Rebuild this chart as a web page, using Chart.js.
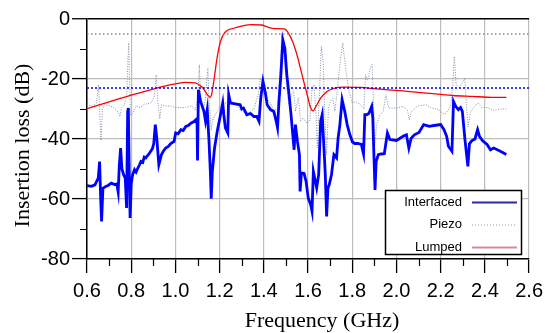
<!DOCTYPE html>
<html>
<head>
<meta charset="utf-8">
<script src="https://cdn.jsdelivr.net/npm/chart.js@4.4.1/dist/chart.umd.min.js"></script>
<style>
  html, body { margin: 0; padding: 0; background: #fff; }
  canvas { display: block; }
</style>
</head>
<body>
<canvas id="lossChart" width="549" height="333"></canvas>
<script>
// --- Data: [frequency (GHz), insertion loss (dB)] ---
const interfaced = [
  [0.600,-55.5],[0.620,-55.8],[0.636,-55.3],[0.651,-53],[0.657,-47.5],[0.662,-60],[0.666,-67.5],
  [0.672,-56.4],[0.685,-55.8],[0.695,-55.5],[0.710,-54.7],[0.725,-55.2],[0.735,-55],[0.741,-57.7],
  [0.746,-49],[0.752,-43],[0.758,-50],[0.766,-52],[0.773,-53],[0.779,-63],[0.784,-31],[0.787,-29.7],
  [0.791,-50],[0.795,-66.3],[0.800,-55],[0.806,-52],[0.815,-50.2],[0.822,-51],[0.830,-49.7],
  [0.838,-48.5],[0.844,-47.5],[0.852,-47.8],[0.859,-46],[0.866,-46.3],[0.874,-45.5],[0.882,-44.8],
  [0.889,-44],[0.896,-43.2],[0.902,-41.5],[0.909,-35.2],[0.916,-40],[0.925,-48.6],[0.937,-45.2],
  [0.946,-44],[0.956,-43],[0.968,-42.5],[0.979,-41.5],[0.994,-40.8],[1.001,-38],[1.012,-38.3],
  [1.025,-36.9],[1.035,-37.2],[1.047,-35.8],[1.058,-35.5],[1.070,-34.7],[1.082,-34.3],[1.092,-33.6],
  [1.098,-35],[1.100,-47.2],[1.104,-23.6],[1.114,-27.5],[1.129,-30.8],[1.136,-34],[1.144,-30.2],
  [1.152,-40.8],[1.158,-50.8],[1.162,-59.9],[1.167,-50.8],[1.177,-43],[1.189,-37.5],[1.204,-31.9],
  [1.214,-28],[1.219,-32],[1.226,-36.3],[1.237,-38],[1.241,-25.2],[1.249,-28],[1.271,-28.3],
  [1.293,-28.6],[1.300,-30],[1.308,-29.7],[1.323,-31.9],[1.340,-31.5],[1.355,-32.5],[1.368,-32.5],
  [1.378,-34.1],[1.386,-26.3],[1.396,-20.8],[1.407,-24.7],[1.415,-28.6],[1.430,-30.2],[1.445,-30.8],
  [1.456,-34.1],[1.462,-36.3],[1.468,-28],[1.477,-18.6],[1.486,-7],[1.495,-9.7],[1.504,-18.6],
  [1.514,-25.2],[1.523,-31.9],[1.531,-38.6],[1.537,-43.6],[1.543,-35.2],[1.552,-40.8],[1.561,-45.2],
  [1.564,-57.5],[1.570,-51.3],[1.582,-51.5],[1.591,-54.1],[1.601,-59.7],[1.612,-61.9],[1.618,-64.1],
  [1.624,-50.8],[1.633,-54.1],[1.639,-56.3],[1.648,-51.9],[1.657,-34.1],[1.664,-31.9],[1.672,-43],
  [1.678,-51.9],[1.684,-65.8],[1.690,-56.3],[1.696,-55.2],[1.706,-51.9],[1.717,-45.2],[1.729,-46.3],
  [1.736,-39.7],[1.744,-35.2],[1.754,-26.9],[1.766,-30.8],[1.777,-35.2],[1.789,-38.5],[1.801,-41],
  [1.811,-41.5],[1.825,-41.5],[1.841,-41.8],[1.851,-45],[1.857,-31.9],[1.866,-31.9],[1.875,-31.5],
  [1.888,-29.1],[1.893,-33],[1.896,-40.8],[1.900,-50],[1.903,-57],[1.908,-47.5],[1.918,-45.2],
  [1.930,-45],[1.945,-44.9],[1.959,-38],[1.970,-40.2],[2.000,-40.5],[2.030,-39.1],[2.045,-38.6],
  [2.056,-43],[2.066,-39.8],[2.081,-38.6],[2.102,-37.8],[2.123,-35.2],[2.148,-35.8],[2.170,-35.5],
  [2.200,-35.2],[2.215,-36.9],[2.227,-39.1],[2.235,-42.4],[2.251,-44.1],[2.258,-27.5],[2.268,-29.1],
  [2.280,-30.2],[2.290,-29.5],[2.298,-30.8],[2.310,-40.3],[2.323,-49.1],[2.330,-41.6],[2.340,-40.6],
  [2.355,-40],[2.367,-36.9],[2.376,-39.2],[2.390,-40.6],[2.410,-41.8],[2.425,-43.6],[2.440,-43],
  [2.470,-44.1],[2.497,-45.2]
];

const piezo = [
  [0.600,-28.5],[0.620,-29],[0.643,-28],[0.652,-22],[0.657,-30],[0.663,-40.5],[0.670,-30],[0.680,-28.5],
  [0.703,-29],[0.720,-29.5],[0.740,-31],[0.749,-32.5],[0.757,-29.5],[0.770,-28.5],[0.780,-25],
  [0.786,-12],[0.789,-8],[0.792,-20],[0.797,-32],[0.805,-31.5],[0.822,-29],[0.840,-29.5],[0.859,-28.5],
  [0.889,-28],[0.904,-26],[0.913,-18.6],[0.920,-27],[0.929,-33.3],[0.936,-28.6],[0.950,-29],
  [0.979,-29],[1.000,-29.5],[1.045,-29.5],[1.075,-29],[1.090,-30.5],[1.102,-26],[1.108,-15.2],
  [1.114,-26],[1.125,-30.5],[1.135,-27],[1.147,-16.3],[1.152,-27],[1.162,-37],[1.170,-33],
  [1.189,-30.8],[1.211,-28],[1.230,-28],[1.250,-27.5],[1.271,-28.5],[1.300,-30.8],[1.330,-31.5],
  [1.355,-30],[1.375,-25],[1.384,-19.8],[1.392,-21.3],[1.400,-25],[1.430,-28],[1.445,-30.8],
  [1.462,-29.5],[1.473,-18],[1.481,-5.2],[1.490,-10.8],[1.504,-23],[1.513,-28.6],[1.525,-25.2],
  [1.535,-24.1],[1.543,-30.8],[1.556,-26.3],[1.567,-34.1],[1.579,-33],[1.594,-34.7],[1.608,-34],
  [1.618,-23],[1.627,-21.9],[1.636,-31.9],[1.642,-43],[1.650,-27.5],[1.660,-9.1],[1.668,-14.1],
  [1.676,-31.9],[1.684,-45.2],[1.692,-30],[1.700,-27.5],[1.712,-26.5],[1.721,-30.8],[1.729,-26],
  [1.744,-15.2],[1.757,-8],[1.763,-12],[1.772,-17.5],[1.785,-24],[1.800,-28],[1.815,-27.5],
  [1.835,-28.5],[1.853,-30],[1.860,-18.6],[1.870,-20.5],[1.883,-16],[1.890,-15.2],[1.895,-26],
  [1.902,-42],[1.910,-35.5],[1.925,-32],[1.940,-30.8],[1.952,-25.2],[1.965,-29.7],[2.000,-29.7],
  [2.030,-29.1],[2.050,-30.5],[2.058,-33.6],[2.066,-31],[2.095,-29],[2.135,-28.6],[2.160,-29.7],
  [2.190,-30.2],[2.217,-31.9],[2.233,-30.5],[2.245,-29],[2.255,-22],[2.262,-12.5],[2.270,-22],
  [2.285,-23],[2.300,-21],[2.309,-19.7],[2.316,-28],[2.324,-36],[2.335,-31],[2.350,-29.5],
  [2.369,-28],[2.385,-29.5],[2.410,-29.5],[2.440,-30.5],[2.470,-30],[2.497,-30]
];

const lumped = [
  [0.600,-29.9],[0.700,-27.6],[0.800,-25.4],[0.912,-23.1],[0.960,-22.2],[1.000,-21.6],[1.045,-21.1],
  [1.090,-21.3],[1.112,-22.2],[1.127,-23.3],[1.142,-25],[1.157,-26.1],[1.165,-24.7],[1.177,-19],
  [1.187,-13.6],[1.202,-8],[1.217,-5.2],[1.232,-3.9],[1.269,-3],[1.314,-2.1],[1.344,-1.9],
  [1.389,-2],[1.418,-2.7],[1.448,-3.2],[1.493,-3.3],[1.510,-4.6],[1.530,-7.5],[1.552,-12.5],
  [1.567,-16.9],[1.582,-21.3],[1.598,-25.8],[1.612,-29.7],[1.623,-30.6],[1.635,-29.2],[1.657,-26.4],
  [1.687,-24.1],[1.717,-23.1],[1.762,-22.7],[1.836,-22.8],[1.911,-23.3],[2.015,-23.9],[2.135,-24.7],
  [2.254,-25.5],[2.344,-25.8],[2.433,-26.1],[2.497,-26.1]
];

// dotted horizontal reference levels (dB)
const piezoLevel = -5;
const interfacedLevel = -23;

// axis ticks
const xTickValues = [0.6, 0.8, 1.0, 1.2, 1.4, 1.6, 1.8, 2.0, 2.2, 2.4, 2.6];
const xMinorValues = [0.7, 0.9, 1.1, 1.3, 1.5, 1.7, 1.9, 2.1, 2.3, 2.5];
const yTickValues = [0, -20, -40, -60, -80];
const yMinorValues = [-10, -30, -50, -70];

const toPoints = (pairs) => pairs.map(([x, y]) => ({ x, y }));
const levelLine = (level) => [{ x: xTickValues[0], y: level }, { x: xTickValues[xTickValues.length - 1], y: level }];

const BLUE = '#0000ff';
const RED = '#ff0000';
const GRAY_DOT = '#8090aa';

// legend sample styles (the legend in the original is drawn a bit lighter)
const legendRows = [
  { label: 'Interfaced', color: '#2a2aa8', width: 2, dash: [] },
  { label: 'Piezo', color: '#b8bcc6', width: 1.5, dash: [1, 2] },
  { label: 'Lumped', color: '#d98a98', width: 2, dash: [] }
];

// draws minor ticks, axis titles and the boxed legend
const extrasPlugin = {
  id: 'extras',
  afterDraw(chart) {
    const { ctx, chartArea } = chart;
    const xs = chart.scales.x, ys = chart.scales.y;
    ctx.save();

    // minor ticks
    ctx.strokeStyle = '#000';
    ctx.lineWidth = 1.2;
    ctx.beginPath();
    xMinorValues.forEach(v => {
      const px = Math.round(xs.getPixelForValue(v)) + 0.5;
      ctx.moveTo(px, chartArea.bottom);
      ctx.lineTo(px, chartArea.bottom + 7);
    });
    yMinorValues.forEach(v => {
      const py = Math.round(ys.getPixelForValue(v)) + 0.5;
      ctx.moveTo(chartArea.left, py);
      ctx.lineTo(chartArea.left - 7, py);
    });
    ctx.stroke();

    // axis titles
    ctx.fillStyle = '#000';
    ctx.font = '22px "Liberation Serif", "Times New Roman", serif';
    ctx.textAlign = 'center';
    ctx.textBaseline = 'alphabetic';
    ctx.fillText('Frequency (GHz)', 322, 326.5);
    ctx.save();
    ctx.translate(28.5, 145.5);
    ctx.rotate(-Math.PI / 2);
    ctx.fillText('Insertion loss (dB)', 0, 0);
    ctx.restore();

    // legend
    const box = { x: 385.5, y: 190.5, w: 136, h: 64 };
    ctx.fillStyle = '#fff';
    ctx.fillRect(box.x, box.y, box.w, box.h);
    ctx.strokeStyle = '#000';
    ctx.lineWidth = 1.5;
    ctx.strokeRect(box.x, box.y, box.w, box.h);
    ctx.font = '13px "Liberation Sans", Arial, sans-serif';
    ctx.textAlign = 'right';
    ctx.textBaseline = 'middle';
    legendRows.forEach((row, i) => {
      const y = 202 + i * 22.5;
      ctx.fillStyle = '#000';
      ctx.fillText(row.label, 462, y);
      ctx.strokeStyle = row.color;
      ctx.lineWidth = row.width;
      ctx.setLineDash(row.dash);
      ctx.beginPath();
      ctx.moveTo(472, y + 0.5);
      ctx.lineTo(517, y + 0.5);
      ctx.stroke();
    });
    ctx.setLineDash([]);
    ctx.restore();
  }
};

const tickFont = { family: '"Liberation Sans", Arial, sans-serif', size: 20 };

new Chart(document.getElementById('lossChart'), {
  type: 'line',
  data: {
    datasets: [
      { label: 'Piezo level', data: levelLine(piezoLevel), borderColor: '#8c8c8c', borderWidth: 1.5,
        borderDash: [1.5, 2.5], pointRadius: 0, order: 0 },
      { label: 'Interfaced level', data: levelLine(interfacedLevel), borderColor: BLUE, borderWidth: 1.5,
        borderDash: [2, 2], pointRadius: 0, order: 0 },
      { label: 'Lumped', data: toPoints(lumped), borderColor: RED, borderWidth: 1.3,
        cubicInterpolationMode: 'monotone', pointRadius: 0, order: 1 },
      { label: 'Interfaced', data: toPoints(interfaced), borderColor: BLUE, borderWidth: 2.8,
        pointRadius: 0, tension: 0, order: 2 },
      { label: 'Piezo', data: toPoints(piezo), borderColor: GRAY_DOT, borderWidth: 1,
        borderDash: [1, 1.5], pointRadius: 0, tension: 0, order: 3 }
    ]
  },
  options: {
    responsive: false,
    animation: false,
    devicePixelRatio: 1,
    layout: { padding: { top: 19, right: 15, left: 0, bottom: 0 } },
    plugins: {
      legend: { display: false },
      tooltip: { enabled: false }
    },
    scales: {
      x: {
        type: 'linear',
        min: 0.6,
        max: 2.6,
        afterBuildTicks: (s) => { s.ticks = xTickValues.map(v => ({ value: v })); },
        afterFit: (s) => { s.height = 74; },
        ticks: {
          font: tickFont,
          color: '#000',
          padding: 6,
          maxRotation: 0,
          autoSkip: false,
          callback: (v) => Number(v).toFixed(1)
        },
        grid: { color: '#bdbdbd', lineWidth: 1.2, tickColor: '#000', tickLength: 14, tickWidth: 1.3 },
        border: { color: '#000', width: 1.5 }
      },
      y: {
        min: -80,
        max: 0,
        afterBuildTicks: (s) => { s.ticks = yTickValues.map(v => ({ value: v })); },
        afterFit: (s) => { s.width = 87; },
        ticks: { font: tickFont, color: '#000', padding: 2 },
        grid: {
          color: (c) => (c.tick && c.tick.value === 0 ? '#000' : '#bdbdbd'),
          lineWidth: (c) => (c.tick && c.tick.value === 0 ? 1.5 : 1.2),
          tickColor: '#000', tickLength: 15, tickWidth: 1.3
        },
        border: { color: '#000', width: 1.5 }
      }
    }
  },
  plugins: [extrasPlugin]
});
</script>
</body>
</html>
